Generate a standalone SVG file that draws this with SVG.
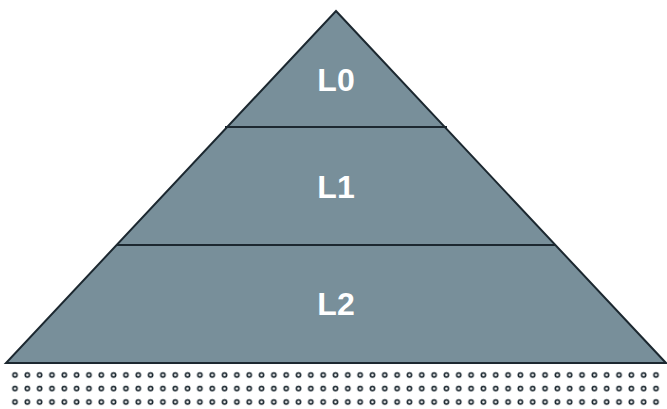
<svg xmlns="http://www.w3.org/2000/svg" width="667" height="409" viewBox="0 0 667 409">
  <style>
    .tier { fill: #788f9a; stroke: #1c2830; stroke-width: 2; stroke-linejoin: miter; }
    .div { stroke: #1c2830; stroke-width: 2; fill: none; }
    .lbl { font-family: "Liberation Sans", Arial, sans-serif; font-weight: bold; font-size: 32px; fill: #ffffff; text-anchor: middle; }
    .dot { fill: #ffffff; stroke: #1c2830; stroke-width: 1.6; }
  </style>
  <defs>
    <pattern id="dots" x="8.84" y="368.5" width="12.327" height="13.5" patternUnits="userSpaceOnUse">
      <circle class="dot" cx="6.16" cy="6.5" r="2.1"/>
    </pattern>
  </defs>
  <rect x="8" y="368" width="655" height="41" fill="url(#dots)"/>
  <g id="pyramid">
    <polygon class="tier" points="336,11 666,363 6,363"/>
  </g>
  <g id="connectors">
    <line class="div" x1="225" y1="127" x2="447" y2="127"/>
    <line class="div" x1="117" y1="245" x2="555" y2="245"/>
  </g>
  <g id="L0"><text class="lbl" x="336" y="91">L0</text></g>
  <g id="L1"><text class="lbl" x="336" y="198">L1</text></g>
  <g id="L2"><text class="lbl" x="336" y="315">L2</text></g>
</svg>
